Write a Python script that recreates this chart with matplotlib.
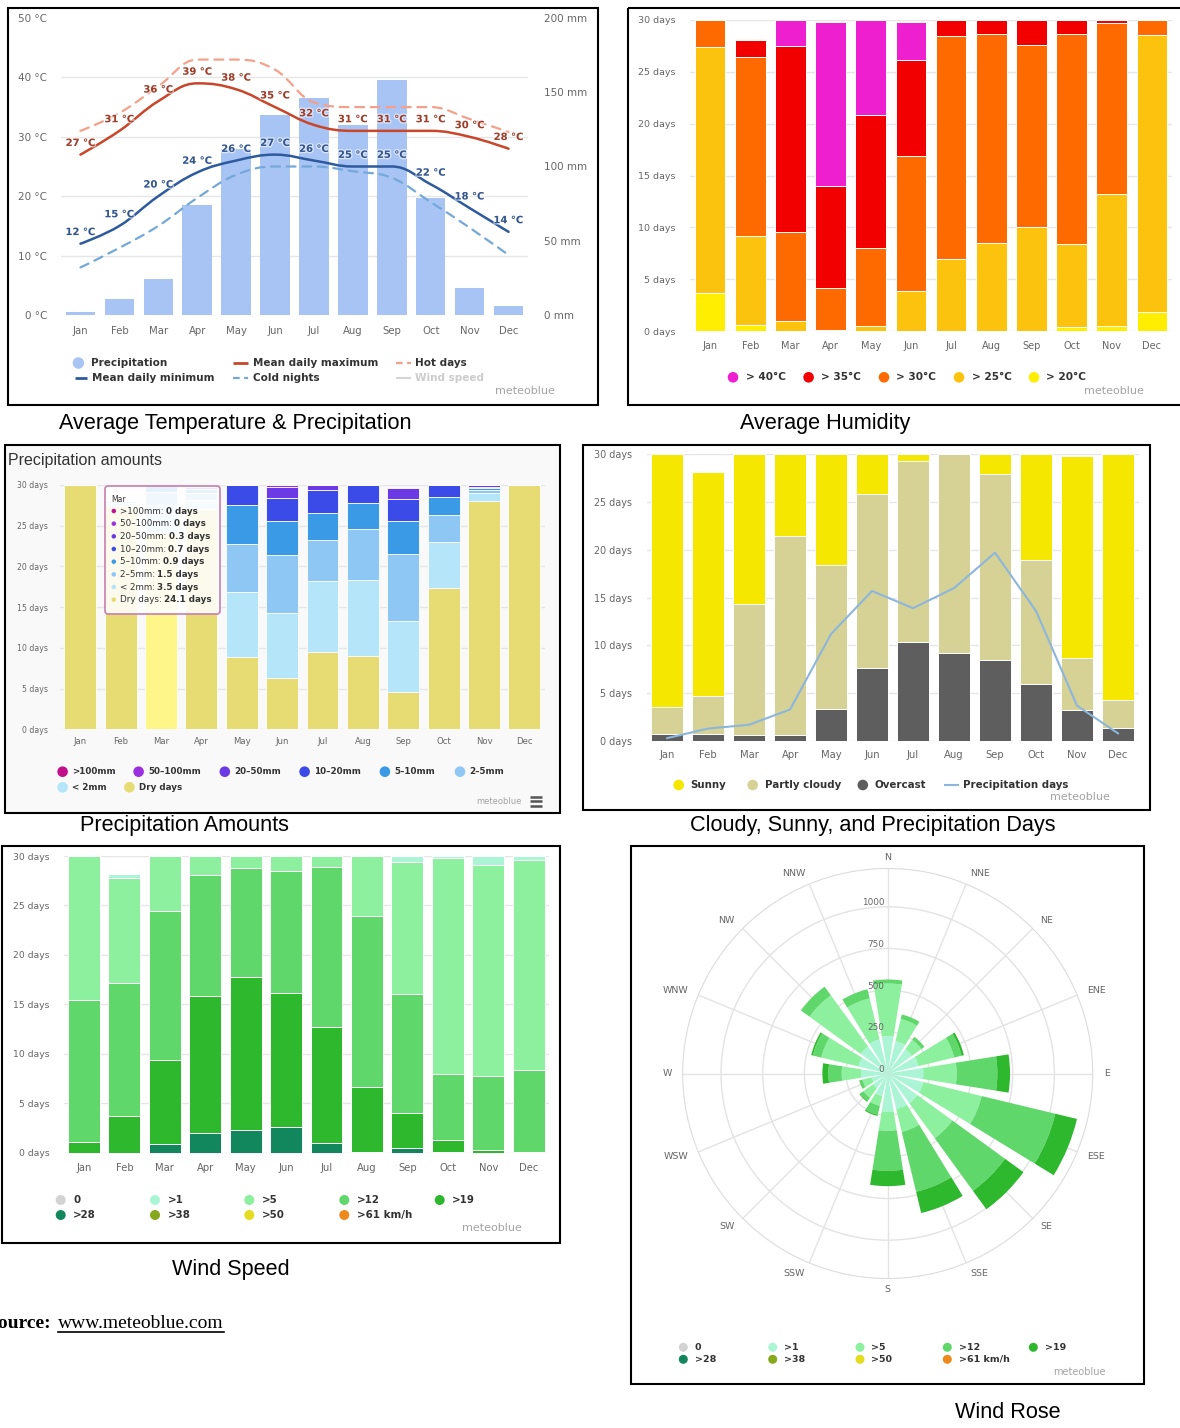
import numpy as np
import matplotlib
matplotlib.use('Agg')
import matplotlib.pyplot as plt
from matplotlib.path import Path
from matplotlib.patches import PathPatch, Rectangle, FancyBboxPatch
from matplotlib import font_manager as fm
import matplotlib.patheffects as pe

# ---------------- DATA ----------------
months = ['Jan', 'Feb', 'Mar', 'Apr', 'May', 'Jun', 'Jul', 'Aug', 'Sep', 'Oct', 'Nov', 'Dec']

# Panel 1: temperature & precipitation
precip_mm = [2, 11, 24, 74, 112, 135, 146, 128, 158, 79, 18, 6]
t_max = [27, 31, 36, 39, 38, 35, 32, 31, 31, 31, 30, 28]
t_min = [12, 15, 20, 24, 26, 27, 26, 25, 25, 22, 18, 14]
hot_days = [31, 34, 38.5, 43, 43, 41.3, 35.8, 35, 35, 35, 33, 30.8]
cold_nights = [8, 11.3, 15, 19.7, 23.6, 25, 25, 24.2, 23.1, 19.0, 14.7, 10.1]

# Panel 2: days above temperature
hum_gt20 = [3.7, 0.64, 0, 0, 0, 0, 0, 0, 0, 0.4, 0.5, 1.9]
hum_gt25 = [23.7, 8.56, 1.0, 0.15, 0.5, 3.85, 7.0, 8.5, 10.0, 8.0, 12.75, 26.6]
hum_gt30 = [2.6, 17.2, 8.6, 4.05, 7.5, 13.05, 21.4, 20.1, 17.6, 20.2, 16.45, 1.5]
hum_gt35 = [0, 1.6, 17.9, 9.8, 12.8, 9.2, 1.6, 1.4, 2.4, 1.4, 0.3, 0]
hum_gt40 = [0, 0, 2.5, 15.8, 9.2, 3.7, 0, 0, 0, 0, 0, 0]
hum_labels = ['> 40°C', '> 35°C', '> 30°C', '> 25°C', '> 20°C']

# Panel 3: precipitation amounts (days)
pa_dry = [30, 27.4, 24.1, 27.0, 8.9, 6.3, 9.5, 9.0, 4.6, 17.3, 28.0, 30]
pa_lt2 = [0, 0.4, 3.5, 1.2, 7.9, 8.0, 8.7, 9.3, 8.7, 5.7, 1.0, 0]
pa_2_5 = [0, 0.2, 1.5, 0.8, 6.0, 7.1, 5.1, 6.3, 8.2, 3.3, 0.4, 0]
pa_5_10 = [0, 0, 0.9, 0.5, 4.7, 4.2, 3.3, 3.2, 4.1, 2.2, 0.2, 0]
pa_10_20 = [0, 0, 0.7, 0.3, 2.5, 2.8, 2.8, 2.2, 2.7, 1.5, 0.2, 0]
pa_20_50 = [0, 0, 0.3, 0.2, 0, 1.4, 0.6, 0, 1.3, 0, 0.2, 0]
pa_50_100 = [0, 0, 0, 0, 0, 0.2, 0, 0, 0.2, 0, 0, 0]
pa_gt100 = [0, 0, 0, 0, 0, 0, 0, 0, 0, 0, 0, 0]
pa_labels = ['>100mm', '50–100mm', '20–50mm', '10–20mm', '5–10mm', '2–5mm', '< 2mm', 'Dry days']
tooltip_month = 'Mar'

# Panel 4: cloud cover
overcast = [0.7, 0.7, 0.6, 0.6, 3.3, 7.6, 10.4, 9.2, 8.5, 6.0, 3.2, 1.4]
partly_cloudy = [2.9, 4.0, 13.7, 20.8, 15.1, 18.2, 18.9, 20.8, 19.4, 12.9, 5.5, 2.9]
sunny = [26.4, 23.4, 15.7, 8.6, 11.6, 4.2, 0.7, 0.0, 2.1, 11.1, 21.1, 25.7]
precip_days = [0.3, 1.3, 1.7, 3.3, 11.2, 15.7, 13.9, 16.0, 19.7, 13.6, 3.7, 0.8]

# Panel 5: wind speed days
ws_gt28 = [0, 0, 0.85, 1.95, 2.3, 2.6, 0.95, 0.1, 0.5, 0.1, 0, 0]
ws_gt19 = [1.1, 3.7, 8.55, 13.85, 15.5, 13.5, 11.75, 6.5, 3.5, 1.2, 0.3, 0.1]
ws_gt12 = [14.3, 13.5, 15.0, 12.3, 11.0, 12.4, 16.2, 17.3, 12.0, 6.7, 7.5, 8.3]
ws_gt5 = [14.6, 10.6, 5.6, 1.9, 1.2, 1.5, 1.1, 6.1, 13.4, 21.8, 21.3, 21.2]
ws_gt1 = [0, 0.4, 0, 0, 0, 0, 0, 0, 0.6, 0.2, 0.9, 0.4]
wind_labels_row1 = ['0', '>1', '>5', '>12', '>19']
wind_labels_row2 = ['>28', '>38', '>50', '>61 km/h']

# Panel 6: wind rose (hours per direction, stacked by speed class)
rose_dirs = ['N', 'NNE', 'NE', 'ENE', 'E', 'ESE', 'SE', 'SSE',
             'S', 'SSW', 'SW', 'WSW', 'W', 'WNW', 'NW', 'NNW']
rose_gt1 = [224, 200, 180, 190, 214, 220, 220, 220, 230, 140, 110, 100, 160, 180, 200, 210]
rose_gt5 = [316, 136, 70, 220, 200, 360, 260, 140, 114, 60, 70, 56, 116, 230, 380, 254]
rose_gt12 = [24, 28, 22, 46, 244, 454, 390, 370, 240, 55, 25, 18, 80, 52, 64, 56]
rose_gt19 = [0, 0, 0, 14, 76, 134, 137, 131, 92, 7, 5, 2, 36, 10, 0, 0]
rose_rticks = [0, 250, 500, 750, 1000]

# ---------------- STYLE ----------------
W, H = 1180, 1428
fig = plt.figure(figsize=(W / 100, H / 100), dpi=100)
fig.patch.set_facecolor('white')
plt.rcParams['font.family'] = ['DejaVu Sans']

GRAY = '#666666'
DARK = '#333333'
GRID = '#e6e6e6'
LOGO = '#a3a3a3'

try:
    fm.findfont(fm.FontProperties(family='Liberation Sans Narrow'), fallback_to_default=False)
    TITLE_FAM = ['Liberation Sans Narrow', 'Liberation Sans']
    TITLE_SIZE = 19
except Exception:
    TITLE_FAM = ['Liberation Sans', 'DejaVu Sans']
    TITLE_SIZE = 15.6


def add_ax(x0, y0, x1, y1, **kw):
    return fig.add_axes([x0 / W, 1 - y1 / H, (x1 - x0) / W, (y1 - y0) / H], **kw)


xc = np.arange(12)


def cat_axes(ax, ymax, ystep, unit, ysize, xsize, ypad, xpad):
    ax.set_xlim(-0.5, 11.5)
    ax.set_ylim(0, ymax)
    ax.set_xticks(xc)
    ax.set_xticklabels(months)
    yt = np.arange(0, ymax + 0.01, ystep)
    ax.set_yticks(yt)
    ax.set_yticklabels([f'{v:g} {unit}' for v in yt])
    for s in ax.spines.values():
        s.set_visible(False)
    ax.tick_params(length=0, colors=GRAY)
    ax.tick_params(axis='y', labelsize=ysize, pad=ypad)
    ax.tick_params(axis='x', labelsize=xsize, pad=xpad)
    ax.grid(axis='y', color=GRID, lw=1)
    ax.set_axisbelow(True)
    ax.set_facecolor('none')


def stack(ax, layers, colors, width, lw=0.7):
    bottom = np.zeros(12)
    for vals, c in zip(layers, colors):
        v = np.asarray(vals, float)
        ax.bar(xc, v, width, bottom=bottom, color=c, edgecolor='white', linewidth=lw, zorder=2)
        bottom = bottom + v


def spline_path(xs, ys, smoothing=1.5):
    xs = list(map(float, xs)); ys = list(map(float, ys))
    n = len(xs)
    lc = [None] * n; rc = [None] * n
    d = smoothing + 1
    for i in range(n):
        if i == 0 or i == n - 1:
            lc[i] = (xs[i], ys[i]); rc[i] = (xs[i], ys[i])
            continue
        lx = (smoothing * xs[i] + xs[i - 1]) / d
        ly = (smoothing * ys[i] + ys[i - 1]) / d
        rx = (smoothing * xs[i] + xs[i + 1]) / d
        ry = (smoothing * ys[i] + ys[i + 1]) / d
        corr = ((ry - ly) * (rx - xs[i])) / (rx - lx) + ys[i] - ry
        ly += corr; ry += corr
        if ly > max(ys[i - 1], ys[i]):
            ly = max(ys[i - 1], ys[i]); ry = 2 * ys[i] - ly
        elif ly < min(ys[i - 1], ys[i]):
            ly = min(ys[i - 1], ys[i]); ry = 2 * ys[i] - ly
        if ry > max(ys[i + 1], ys[i]):
            ry = max(ys[i + 1], ys[i]); ly = 2 * ys[i] - ry
        elif ry < min(ys[i + 1], ys[i]):
            ry = min(ys[i + 1], ys[i]); ly = 2 * ys[i] - ry
        lc[i] = (lx, ly); rc[i] = (rx, ry)
    verts = [(xs[0], ys[0])]; codes = [Path.MOVETO]
    for i in range(1, n):
        verts += [rc[i - 1], lc[i], (xs[i], ys[i])]
        codes += [Path.CURVE4] * 3
    return Path(verts, codes)


# ---------------- PANEL 1 ----------------
C_PREC = '#a8c4f5'
C_MAX = '#c9462b'
C_MIN = '#2e5a9e'
C_HOT = '#f4a08b'
C_COLD = '#73a8d8'

axp = add_ax(61, 18, 528, 315)
axp.set_xlim(-0.5, 11.5)
axp.set_ylim(0, 200)
axp.bar(xc, precip_mm, 0.76, color=C_PREC, zorder=2)
axp.yaxis.tick_right()
axp.set_yticks([0, 50, 100, 150, 200])
axp.set_yticklabels([f'{v} mm' for v in [0, 50, 100, 150, 200]])
axp.set_yticks(np.arange(0, 201, 40), minor=True)
axp.grid(which='minor', axis='y', color=GRID, lw=1)
axp.grid(which='major', visible=False)
axp.set_axisbelow(True)
axp.set_xticks(xc)
axp.set_xticklabels(months)
for s in axp.spines.values():
    s.set_visible(False)
axp.tick_params(which='both', length=0, colors=GRAY)
axp.tick_params(axis='y', labelsize=7.5, pad=11.5)
axp.tick_params(axis='x', labelsize=7.3, pad=7.7)

axt = add_ax(61, 18, 528, 315)
axt.set_facecolor('none')
axt.set_xlim(-0.5, 11.5)
axt.set_ylim(0, 50)
axt.set_xticks([])
axt.set_yticks(np.arange(0, 51, 10))
axt.set_yticklabels([f'{v} °C' for v in range(0, 51, 10)])
for s in axt.spines.values():
    s.set_visible(False)
axt.tick_params(length=0, colors=GRAY, labelsize=7.5, pad=10)

for vals, col, ls, lw in [(hot_days, C_HOT, (0, (4, 3)), 1.6),
                          (cold_nights, C_COLD, (0, (4, 3)), 1.6),
                          (t_max, C_MAX, '-', 1.8),
                          (t_min, C_MIN, '-', 1.8)]:
    axt.add_patch(PathPatch(spline_path(xc, vals), fill=False, edgecolor=col,
                            lw=lw, linestyle=ls, capstyle='round', zorder=3))

halo = [pe.withStroke(linewidth=2, foreground='white', alpha=0.55)]
for i, v in enumerate(t_max):
    axt.annotate(f'{v} °C', (i, v), xytext=(0, 8.4), textcoords='offset points',
                 ha='center', va='center', fontsize=7.2, fontweight='bold',
                 color='#9e3e2b', path_effects=halo, zorder=5)
for i, v in enumerate(t_min):
    axt.annotate(f'{v} °C', (i, v), xytext=(0, 8.4), textcoords='offset points',
                 ha='center', va='center', fontsize=7.2, fontweight='bold',
                 color='#34568f', path_effects=halo, zorder=5)

# ---------------- PANEL 2 ----------------
C_HUM = ['#ffee00', '#fcc30e', '#ff6a00', '#f20000', '#ee1fce']
axh = add_ax(690, 19.7, 1172, 331.3)
cat_axes(axh, 30, 5, 'days', 6.8, 7.0, 10.4, 6.8)
stack(axh, [hum_gt20, hum_gt25, hum_gt30, hum_gt35, hum_gt40], C_HUM, 0.76)

# ---------------- PANEL 3 ----------------
C_PA = ['#e6dc73', '#b5e5f9', '#8fc7f4', '#3a9ae6', '#3a4be8', '#6b3ae4', '#9a30e0', '#c2108a']
dry_colors = ['#fff68a' if m == tooltip_month else C_PA[0] for m in months]
axa = add_ax(60.1, 485, 544.6, 729.3)
cat_axes(axa, 30, 5, 'days', 5.6, 6.1, 8.6, 5.5)
pa_layers = [pa_dry, pa_lt2, pa_2_5, pa_5_10, pa_10_20, pa_20_50, pa_50_100, pa_gt100]
bottom = np.zeros(12)
for k, (vals, c) in enumerate(zip(pa_layers, C_PA)):
    v = np.asarray(vals, float)
    axa.bar(xc, v, 0.79, bottom=bottom, color=dry_colors if k == 0 else c,
            edgecolor='white', linewidth=0.6, zorder=2)
    bottom = bottom + v

# ---------------- PANEL 4 ----------------
C_CL = ['#5e5e5e', '#d6d296', '#f5e700']
axc = add_ax(646.6, 454.3, 1138.5, 741)
cat_axes(axc, 30, 5, 'days', 6.9, 7.2, 10.7, 6.5)
stack(axc, [overcast, partly_cloudy, sunny], C_CL, 0.78)
axc.plot(xc, precip_days, color='#8cb6dc', lw=1.5, zorder=4)

# ---------------- PANEL 5 ----------------
C_WIND = {'0': '#d3d3d3', '>1': '#abf5d6', '>5': '#8cf09e', '>12': '#5fd76a',
          '>19': '#2eb82e', '>28': '#12875e', '>38': '#86a81a', '>50': '#e4dc1e',
          '>61 km/h': '#ee8a1c'}
axw = add_ax(63.7, 856, 548.9, 1152.7)
cat_axes(axw, 30, 5, 'days', 6.7, 7.2, 10.4, 7.2)
stack(axw, [ws_gt28, ws_gt19, ws_gt12, ws_gt5, ws_gt1],
      [C_WIND['>28'], C_WIND['>19'], C_WIND['>12'], C_WIND['>5'], C_WIND['>1']], 0.79)

# ---------------- PANEL 6 ----------------
RPX = 205.0
RMAX = 1230.0
cx, cy = 887.7, 1073.5
axr = add_ax(cx - RPX, cy - RPX, cx + RPX, cy + RPX, projection='polar')
axr.set_theta_zero_location('N')
axr.set_theta_direction(-1)
axr.set_ylim(0, RMAX)
theta = np.deg2rad(np.arange(16) * 22.5)
axr.set_xticks(theta)
axr.set_xticklabels([])
axr.set_yticks(rose_rticks[1:])
axr.set_yticklabels([])
axr.grid(color='#e3e3e3', lw=1)
axr.spines['polar'].set_color('#dcdcdc')
axr.set_axisbelow(True)
wbar = np.deg2rad(22.5 * 0.8)
cum = np.zeros(16)
for vals, c in zip([rose_gt1, rose_gt5, rose_gt12, rose_gt19],
                   [C_WIND['>1'], C_WIND['>5'], C_WIND['>12'], C_WIND['>19']]):
    v = np.asarray(vals, float)
    axr.bar(theta, v, width=wbar, bottom=cum, color=c, edgecolor='none', linewidth=0, zorder=2)
    cum = cum + v
for th, lab in zip(theta, rose_dirs):
    s = np.sin(th)
    ha = 'center' if abs(s) < 0.25 else ('left' if s > 0 else 'right')
    axr.text(th, RMAX * 216 / RPX, lab, ha=ha, va='center', fontsize=6.8,
             color=GRAY, clip_on=False)
for r in rose_rticks:
    axr.annotate(f'{r}', (0, r), xytext=(-2.5, 3.0), textcoords='offset points',
                 ha='right', va='center', fontsize=6.4, color=GRAY, zorder=10)

# ---------------- OVERLAY (legends, titles, borders) ----------------
ov = fig.add_axes([0, 0, 1, 1], zorder=50)
ov.set_xlim(0, W)
ov.set_ylim(H, 0)
ov.axis('off')


def T(x, y, s, size=7.5, color=DARK, weight='normal', ha='left', va='center', family=None, **kw):
    return ov.text(x, y, s, fontsize=size, color=color, fontweight=weight, ha=ha, va=va,
                   family=family or ['DejaVu Sans'], **kw)


def dot(x, y, color, d=11, z=5):
    ov.scatter([x], [y], s=(d * 0.72) ** 2, color=color, edgecolors='none', zorder=z)


def seg(x0, x1, y, color, lw=2, ls='-'):
    ov.plot([x0, x1], [y, y], color=color, lw=lw, linestyle=ls, solid_capstyle='butt')


# Panel 1 legend
dot(78.4, 363, C_PREC, 11.5); T(91.5, 363, 'Precipitation', weight='bold')
seg(233, 248, 363, C_MAX); T(253, 363, 'Mean daily maximum', weight='bold')
seg(396, 411, 363, C_HOT, 1.6, (0, (3, 2))); T(415, 363, 'Hot days', weight='bold')
seg(75, 87, 378, C_MIN); T(91.5, 378, 'Mean daily minimum', weight='bold')
seg(233, 248, 378, C_COLD, 1.6, (0, (3, 2))); T(253, 378, 'Cold nights', weight='bold')
seg(396, 411, 378, '#cccccc', 1.2); T(415, 378, 'Wind speed', weight='bold', color='#cccccc')
T(495, 391, 'meteoblue', size=8, color=LOGO)

# Panel 2 legend
for xd, col, lab in zip([733, 808.6, 884, 959, 1034], C_HUM[::-1], hum_labels):
    dot(xd, 377.3, col, 10.6)
    T(xd + 12.5, 377.3, lab, size=7.6, weight='bold')
T(1084, 391, 'meteoblue', size=8, color=LOGO)

# Panel 3 background, title, legend, tooltip
fig.patches.append(Rectangle((5 / W, 1 - 813 / H), 555 / W, 368 / H, transform=fig.transFigure,
                             facecolor='#f9f9f9', edgecolor='none', zorder=-10))
T(8.5, 460, 'Precipitation amounts', size=11.5, color=DARK, family=['Liberation Sans', 'DejaVu Sans'])
leg_cols = C_PA[::-1]
row1 = [(62.6, 0), (138.6, 1), (224.8, 2), (304.6, 3), (384.9, 4), (460, 5)]
for xd, k in row1:
    dot(xd, 771.7, leg_cols[k], 10.6)
    T(xd + 9.5, 771.7, pa_labels[k], size=6.3, weight='bold')
for xd, k in [(62.6, 6), (129.4, 7)]:
    dot(xd, 787.3, leg_cols[k], 10.6)
    T(xd + 9.5, 787.3, pa_labels[k], size=6.3, weight='bold')
T(476.7, 801, 'meteoblue', size=6, color=LOGO)
for yy in (796.5, 801, 805.5):
    ov.plot([530, 542], [yy, yy], color='#555555', lw=1.8, solid_capstyle='butt')

# tooltip
mi = months.index(tooltip_month)
ov.add_patch(FancyBboxPatch((105, 486), 115, 128, boxstyle='round,pad=0,rounding_size=3',
                            facecolor='white', edgecolor='none', alpha=0.88, zorder=6))
ov.add_patch(FancyBboxPatch((105, 486), 115, 128, boxstyle='round,pad=0,rounding_size=3',
                            facecolor='none', edgecolor='#c77fae', lw=1.2, zorder=6))
T(111, 499, tooltip_month, size=5.5, color=DARK, zorder=7)
renderer = fig.canvas.get_renderer()
tip_vals = [pa_gt100, pa_50_100, pa_20_50, pa_10_20, pa_5_10, pa_2_5, pa_lt2, pa_dry]
tip_cols = C_PA[::-1]
for j, (lab, vals, col) in enumerate(zip(pa_labels, tip_vals, tip_cols)):
    yy = 511 + j * 12.67
    dot(113.8, yy, col, 4.5, z=8)
    t = T(119.5, yy, lab + ': ', size=6.3, color=DARK, zorder=7)
    wpx = t.get_window_extent(renderer=renderer).width
    T(119.5 + wpx, yy, f'{vals[mi]:g} days', size=6.3, weight='bold', color=DARK, zorder=7)

# Panel 4 legend
dot(678.7, 785, C_CL[2], 10.6); T(690.6, 785, 'Sunny', size=7.4, weight='bold')
dot(752.7, 785, C_CL[1], 10.6); T(764.6, 785, 'Partly cloudy', size=7.4, weight='bold')
dot(862.8, 785, C_CL[0], 10.6); T(874.7, 785, 'Overcast', size=7.4, weight='bold')
seg(944, 958.5, 785, '#8cb6dc', 1.5); T(962.8, 785, 'Precipitation days', size=7.4, weight='bold')
T(1049.8, 797, 'meteoblue', size=8, color=LOGO)

# Panel 5 legend
cols5 = [60.7, 155, 249.3, 344.3, 439.7]
for xd, lab in zip(cols5, wind_labels_row1):
    dot(xd, 1200, C_WIND[lab], 10); T(xd + 12.5, 1200, lab, size=7.4, weight='bold')
for xd, lab in zip(cols5, wind_labels_row2):
    dot(xd, 1215, C_WIND[lab], 10); T(xd + 12.5, 1215, lab, size=7.4, weight='bold')
T(461.8, 1228, 'meteoblue', size=8, color=LOGO)

# Panel 6 legend
cols6 = [683.3, 772.7, 860, 947.3, 1033.3]
for xd, lab in zip(cols6, wind_labels_row1):
    dot(xd, 1347.3, C_WIND[lab], 9); T(xd + 11.5, 1347.3, lab, size=6.8, weight='bold')
for xd, lab in zip(cols6, wind_labels_row2):
    dot(xd, 1359.3, C_WIND[lab], 9); T(xd + 11.5, 1359.3, lab, size=6.8, weight='bold')
T(1053, 1372, 'meteoblue', size=7, color=LOGO)

# Borders
for (x0, y0, x1, y1) in [(8, 7.5, 598, 405), (628, 8, 1185, 405), (5, 445, 560, 813),
                         (583, 445, 1150, 810), (2, 846, 560, 1243), (631, 846, 1144, 1384)]:
    ov.add_patch(Rectangle((x0, y0), x1 - x0, y1 - y0, fill=False, edgecolor='black', lw=1.5, zorder=8))

# Titles
for (xt, yt, s) in [(235.5, 423, 'Average Temperature & Precipitation'),
                    (825, 423, 'Average Humidity'),
                    (184, 826, 'Precipitation Amounts'),
                    (873, 826, 'Cloudy, Sunny, and Precipitation Days'),
                    (231, 1270, 'Wind Speed'),
                    (1007.5, 1413, 'Wind Rose')]:
    T(xt, yt, s, size=TITLE_SIZE, color='black', ha='center', family=TITLE_FAM)

# Source (cut at the left edge, as in the original)
SERIF = ['Liberation Serif', 'DejaVu Serif']
T(52, 1323, 'Source:', size=14, weight='bold', color='black', ha='right', family=SERIF)
u = T(58, 1323, 'www.meteoblue.com', size=14, color='black', ha='left', family=SERIF)
bb = u.get_window_extent(renderer=renderer)
ov.plot([58, 58 + bb.width], [1332, 1332], color='black', lw=1.2)

fig.savefig('out.png', dpi=100, facecolor='white')
